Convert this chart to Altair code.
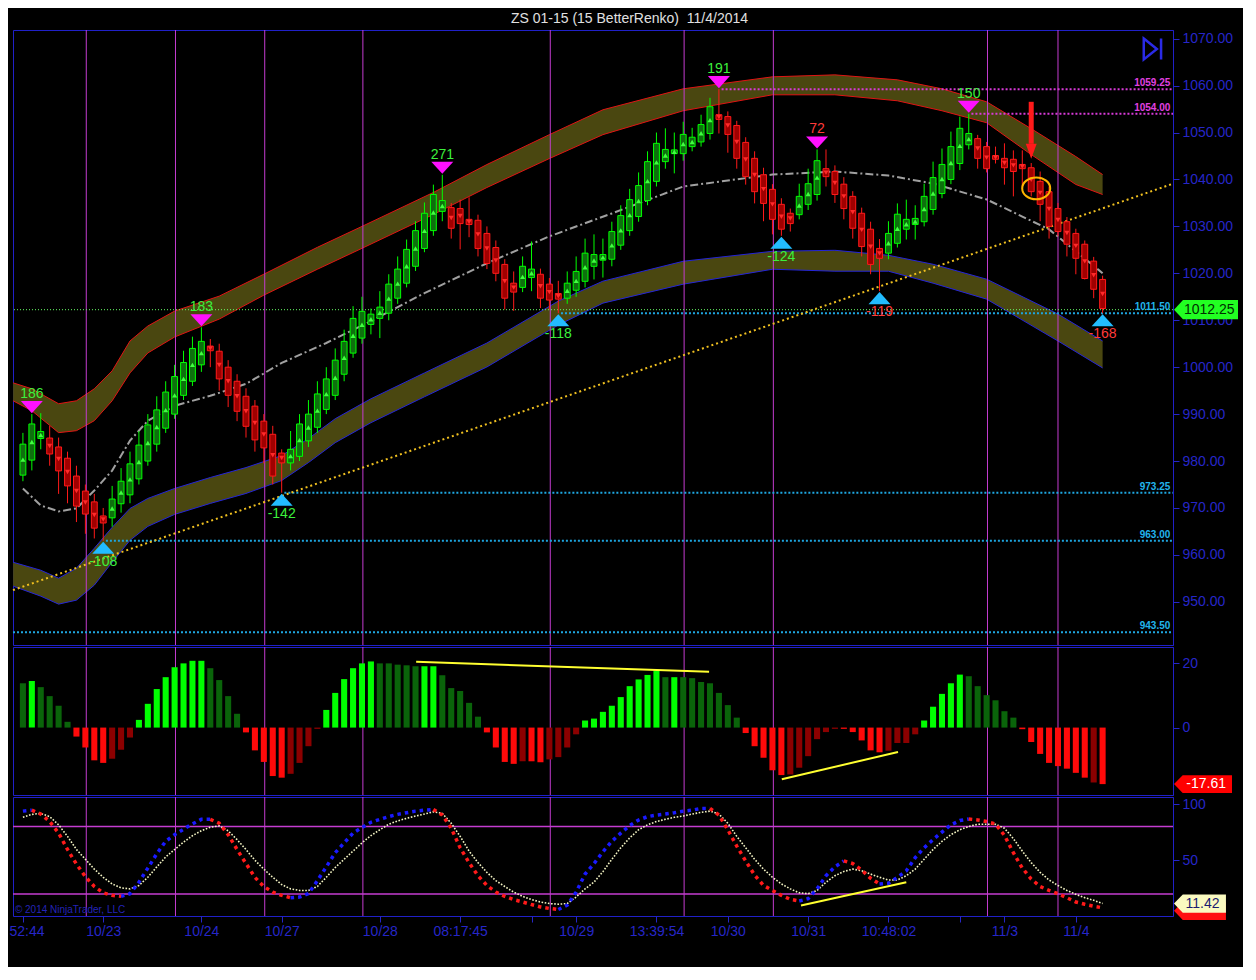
import altair as alt
import pandas as pd

FONT = "Liberation Sans"
AXC = "#2626c8"
MAG = "#c43cd0"
BORDER = "#2020c8"
W = 1160
X_LO, X_HI = -1.111, 128.889

# ---------------- renko bars ----------------
N = 122
idx = list(range(N))
opens = [977.0, 980.2, 984.8, 984.9, 983.0, 980.6, 976.8, 973.6, 971.3, 968.3,
         967.9, 970.9, 972.8, 976.2, 980.0, 983.6, 987.0, 990.0, 994.0, 997.0,
         1000.5, 1004.5, 1003.4, 1000.0, 997.0, 993.8, 991.7, 988.5, 985.7, 981.7,
         979.6, 981.0, 984.3, 987.2, 991.0, 994.0, 998.5, 1003.0, 1006.2, 1009.1,
         1010.4, 1011.5, 1014.7, 1017.9, 1021.5, 1025.3, 1029.1, 1033.2, 1034.0, 1033.8,
         1031.5, 1031.3, 1028.5, 1025.5, 1021.9, 1017.9, 1017.0, 1019.1, 1019.8, 1017.7,
         1015.7, 1014.7, 1016.4, 1018.3, 1021.5, 1022.8, 1023.0, 1026.0, 1029.1, 1032.1,
         1035.5, 1039.6, 1043.8, 1045.5, 1045.5, 1047.0, 1048.0, 1049.8, 1053.8, 1053.4,
         1051.5, 1047.9, 1044.5, 1041.0, 1037.9, 1034.7, 1032.8, 1032.5, 1034.7, 1036.8,
         1042.3, 1041.7, 1039.0, 1036.4, 1032.8, 1029.4, 1025.3, 1024.3, 1026.4, 1029.4,
         1030.4, 1031.0, 1033.6, 1037.0, 1040.0, 1043.4, 1047.4, 1048.7, 1047.0, 1045.1,
         1044.5, 1044.3, 1043.2, 1042.5, 1039.6, 1037.4, 1033.8, 1031.0, 1028.5, 1026.2,
         1022.6, 1018.7]
closes = [983.6, 987.9, 986.3, 981.5, 977.9, 974.7, 970.4, 968.7, 965.7, 966.8,
          971.9, 975.7, 979.4, 983.4, 987.7, 990.9, 994.7, 998.0, 1001.0, 1004.0,
          1005.5, 1003.5, 997.5, 994.0, 990.6, 987.4, 984.5, 982.8, 976.8, 979.6,
          982.5, 987.9, 990.0, 994.3, 997.5, 1001.5, 1005.5, 1010.4, 1011.9, 1011.3,
          1012.8, 1017.7, 1020.9, 1025.1, 1029.1, 1032.8, 1036.8, 1035.5, 1029.6, 1030.6,
          1030.4, 1025.3, 1022.1, 1020.0, 1014.7, 1016.0, 1021.5, 1020.9, 1014.7, 1014.3,
          1014.5, 1017.9, 1020.4, 1024.3, 1024.0, 1024.0, 1028.9, 1032.3, 1035.7, 1038.7,
          1043.8, 1047.7, 1046.4, 1046.3, 1049.6, 1049.0, 1051.7, 1055.5, 1052.8, 1049.6,
          1044.5, 1040.6, 1037.4, 1034.9, 1031.5, 1029.4, 1030.6, 1036.4, 1039.1, 1044.0,
          1040.6, 1036.8, 1033.8, 1029.6, 1025.7, 1021.9, 1023.2, 1028.5, 1032.6, 1031.5,
          1031.7, 1036.4, 1040.4, 1043.2, 1047.0, 1050.9, 1049.8, 1044.5, 1042.3, 1044.3,
          1042.5, 1041.7, 1042.3, 1037.4, 1034.7, 1030.0, 1028.9, 1026.2, 1023.2, 1018.9,
          1016.6, 1012.5]
highs = [986.0, 990.0, 990.2, 987.5, 985.0, 982.0, 979.0, 975.0, 973.0, 970.0,
         974.7, 978.5, 982.0, 986.4, 990.0, 993.8, 997.0, 1000.5, 1003.5, 1006.5,
         1008.5, 1006.0, 1005.0, 1001.5, 998.5, 995.5, 993.0, 990.0, 987.5, 982.5,
         986.4, 990.0, 993.0, 997.0, 1000.0, 1004.0, 1008.0, 1013.0, 1015.0, 1012.5,
         1016.2, 1019.8, 1023.6, 1027.2, 1031.1, 1035.1, 1038.9, 1041.0, 1035.0, 1035.7,
         1036.2, 1032.5, 1030.0, 1027.0, 1023.0, 1020.4, 1023.6, 1026.8, 1021.0, 1019.0,
         1018.4, 1020.4, 1023.6, 1027.4, 1028.3, 1027.4, 1031.0, 1034.5, 1038.0, 1041.5,
         1046.0, 1050.0, 1050.9, 1050.0, 1052.3, 1051.0, 1053.8, 1057.4, 1059.25, 1054.5,
         1052.5, 1049.0, 1046.0, 1042.5, 1039.0, 1036.0, 1033.8, 1039.1, 1042.3, 1046.4,
         1046.4, 1043.0, 1040.5, 1037.5, 1034.0, 1031.0, 1027.3, 1031.1, 1034.9, 1035.7,
         1034.5, 1039.1, 1043.8, 1046.6, 1050.2, 1053.4, 1054.0, 1049.5, 1048.0, 1047.0,
         1047.7, 1046.2, 1046.2, 1043.5, 1041.7, 1038.5, 1035.0, 1032.0, 1029.5, 1027.0,
         1023.5, 1019.5]
lows = [975.7, 978.0, 982.5, 979.0, 973.0, 971.0, 967.0, 964.5, 963.5, 963.0,
        966.0, 969.0, 971.0, 975.0, 979.0, 982.0, 986.0, 989.0, 993.0, 996.0,
        999.0, 1000.0, 995.0, 991.5, 988.5, 985.0, 982.0, 979.5, 975.0, 973.25,
        978.0, 980.0, 983.0, 986.0, 990.0, 993.0, 997.0, 1002.0, 1005.0, 1007.0,
        1006.2, 1010.0, 1013.5, 1017.0, 1020.5, 1024.5, 1028.0, 1031.1, 1027.4, 1025.1,
        1027.7, 1023.6, 1020.9, 1018.3, 1012.3, 1012.0, 1016.0, 1016.2, 1012.6, 1012.3,
        1011.5, 1013.5, 1015.0, 1017.0, 1018.7, 1019.1, 1021.5, 1025.0, 1028.0, 1031.0,
        1034.5, 1038.5, 1042.3, 1041.3, 1044.0, 1046.0, 1047.0, 1048.5, 1049.8, 1045.7,
        1042.3, 1038.9, 1034.9, 1031.1, 1028.3, 1028.0, 1028.9, 1031.5, 1033.5, 1035.5,
        1038.5, 1035.0, 1031.5, 1027.4, 1023.6, 1019.8, 1016.2, 1023.0, 1025.5, 1027.2,
        1027.2, 1030.0, 1032.5, 1036.0, 1039.0, 1042.0, 1046.4, 1042.3, 1041.5, 1043.4,
        1038.9, 1036.4, 1037.9, 1036.4, 1031.1, 1027.4, 1027.9, 1023.6, 1019.8, 1018.7,
        1014.7, 1011.5]

# ---------------- bands / averages ----------------
ub_i = [-1.1, 1, 4, 6, 8, 10, 12, 14, 17, 22, 27, 33, 38, 46, 52, 59, 65, 74,
        84, 91, 98, 103, 108, 113, 118, 121]
ub_top = [996.66, 995.39, 992.21, 992.84, 995.39, 999.21, 1005.58, 1008.77, 1011.95,
          1015.14, 1019.81, 1025.54, 1030.00, 1037.23, 1043.18, 1049.55, 1054.85, 1059.32,
          1061.87, 1062.29, 1061.23, 1059.32, 1056.55, 1050.82, 1044.88, 1041.05]
ub_bot = [992.84, 990.72, 986.05, 986.47, 988.60, 992.84, 998.78, 1003.03, 1006.43,
          1010.25, 1015.35, 1020.87, 1025.33, 1032.55, 1038.29, 1044.46, 1049.55, 1054.64,
          1058.04, 1058.04, 1056.77, 1054.64, 1052.09, 1045.30, 1038.93, 1036.80]
lb_i = [-1.1, 2, 4, 6, 8, 10, 12, 14, 17, 21, 25, 29, 32, 35, 39, 45, 52, 60,
        65, 74, 84, 91, 97, 102, 108, 116, 121]
lb_top = [958.43, 956.73, 955.04, 957.16, 961.41, 965.87, 969.90, 972.03, 974.15,
          976.49, 978.61, 981.16, 984.77, 989.02, 993.27, 998.78, 1005.15, 1014.08,
          1018.33, 1022.57, 1024.69, 1024.91, 1023.84, 1021.93, 1018.75, 1011.32, 1005.58]
lb_bot = [953.34, 951.21, 949.51, 950.36, 953.55, 958.43, 963.11, 966.08, 968.63,
          970.97, 973.09, 975.85, 979.67, 983.92, 988.17, 993.69, 1000.05, 1008.98,
          1013.65, 1017.69, 1020.87, 1020.45, 1020.45, 1017.90, 1014.50, 1005.58, 999.84]
mid_i = [0, 2, 4, 6, 8, 10, 12, 14, 17, 21, 25, 29, 34, 39, 45, 52, 59, 66,
         74, 84, 91, 97, 102, 108, 115, 121]
mid_v = [974.15, 970.54, 969.27, 969.90, 973.73, 977.97, 984.35, 988.60, 991.78,
         993.90, 996.45, 1000.90, 1005.15, 1009.83, 1015.78, 1022.15, 1027.88, 1032.76,
         1038.50, 1041.05, 1041.69, 1040.84, 1039.14, 1035.74, 1029.37, 1020.02]
trend_x = [X_LO, X_HI]
trend_y = [952.5, 1039.1]

# session separators
vlines = [7.1, 17.1, 27.1, 38.1, 59.1, 74.1, 84.1, 108.1, 116.0]

# horizontal levels
lvl_vals = [1059.25, 1054.00, 1011.50, 973.25, 963.00, 943.50]
lvl_start = [78.3, 106.3, 60.3, 29.3, 9.3, X_LO]
lvl_kind = ["m", "m", "c", "c", "c", "c"]
last_price = 1012.25

# swing labels
hi_i = [1, 20, 47, 78, 89, 106]
hi_txt = ["186", "183", "271", "191", "72", "150"]
hi_red = [0, 0, 0, 0, 1, 0]
lo_i = [9, 29, 60, 85, 96, 121]
lo_txt = ["-108", "-142", "-118", "-124", "-119", "-168"]
lo_red = [0, 0, 0, 0, 1, 1]

# ---------------- histogram ----------------
hist_vals = [13.8, 14.5, 12.6, 9.8, 6.8, 1.8, -2.8, -6.2, -10.2, -11.0,
             -9.7, -6.9, -3.1, 2.4, 7.4, 12.0, 15.7, 18.8, 20.0, 20.8,
             20.8, 18.5, 14.8, 9.8, 4.3, -1.5, -7.1, -10.7, -15.1, -15.6,
             -14.4, -11.0, -5.8, -0.4, 5.5, 10.8, 15.1, 18.5, 20.0, 20.6,
             20.0, 20.0, 19.6, 19.4, 19.1, 19.1, 19.1, 16.3, 12.3, 11.4,
             7.7, 3.4, -1.5, -6.2, -10.7, -11.3, -10.5, -10.5, -10.8, -9.9,
             -9.2, -6.2, -2.1, 2.2, 2.8, 4.9, 6.8, 9.5, 12.9, 15.0,
             16.4, 17.7, 15.7, 15.7, 15.7, 15.4, 14.2, 13.8, 10.8, 7.0,
             3.1, -1.7, -5.8, -9.4, -13.3, -14.8, -14.6, -12.5, -8.9, -3.6,
             -1.4, -0.4, -0.4, -1.4, -4.0, -7.1, -7.7, -7.2, -4.8, -4.8,
             -2.1, 2.2, 6.5, 10.5, 13.8, 16.5, 16.0, 12.9, 10.1, 8.5,
             5.1, 3.1, -0.5, -4.5, -8.2, -11.0, -12.0, -12.8, -14.1, -15.6,
             -17.1, -17.61]
hist_kind = list("gGggggRRRR" "rrrGGGGGGG" "GggggRRRRR" "rrrrGGGGGG" "gggggGGggg"
                 "ggRRRRrRRr" "rrrGGGGGGG" "GGgGgggggg" "gRRRRRrrrr" "rrRRRRRrrr"
                 "rGGGGGgggg" "ggRRRRRRRR" "rR")
hline_x = [44.07, 76.9, 85.05, 98.07]
hline_v = [20.5, 17.4, -16.1, -7.6]
hline_g = [1, 1, 2, 2]

# ---------------- oscillator ----------------
k_vals = [93.8, 94.7, 91.2, 84.5, 74.2, 59.6, 46.5, 35.4, 26.6, 21.0,
          18.7, 17.8, 20.2, 30.4, 43.0, 55.8, 66.9, 72.8, 77.7, 82.4,
          86.5, 86.5, 83.0, 72.8, 59.6, 47.1, 34.8, 26.6, 21.6, 18.7,
          16.6, 17.2, 20.2, 31.8, 44.1, 56.7, 65.5, 74.2, 79.2, 83.9,
          86.5, 88.9, 90.9, 92.4, 93.8, 94.7, 95.3, 90.3, 78.6, 61.1,
          47.9, 36.2, 27.5, 21.6, 17.8, 14.9, 12.8, 10.5, 8.4, 7.0,
          6.1, 9.9, 21.6, 37.7, 47.0, 57.5, 66.9, 74.2, 81.0, 85.9,
          88.9, 90.3, 91.2, 92.4, 93.8, 94.7, 96.2, 96.2, 90.3, 77.2,
          62.6, 49.4, 36.8, 27.5, 23.1, 18.7, 15.2, 13.7, 15.8, 24.5,
          36.2, 44.1, 49.4, 47.1, 41.2, 33.9, 28.9, 29.5, 34.8, 40.6,
          52.3, 61.1, 68.4, 75.1, 81.6, 85.4, 86.8, 85.9, 84.5, 82.4,
          72.2, 56.7, 43.0, 33.3, 26.6, 23.1, 20.2, 16.6, 12.8, 10.8,
          9.0, 7.6]
d_vals = [88.3, 90.9, 91.8, 88.9, 81.6, 71.3, 59.6, 50.9, 42.1, 34.8,
          28.9, 25.4, 24.5, 27.5, 34.8, 44.1, 52.9, 59.6, 66.1, 71.9,
          76.3, 79.5, 80.7, 76.3, 68.4, 59.6, 50.0, 42.1, 34.8, 28.3,
          24.5, 23.1, 23.1, 26.6, 34.8, 43.5, 50.9, 58.2, 65.5, 71.9,
          77.2, 82.1, 85.1, 87.4, 89.4, 91.2, 93.2, 91.8, 83.0, 71.3,
          58.2, 47.9, 39.2, 31.8, 26.6, 21.6, 17.8, 14.9, 12.8, 11.4,
          10.8, 11.4, 17.2, 24.5, 30.5, 39.8, 50.9, 61.1, 69.9, 77.2,
          81.6, 84.5, 86.5, 88.3, 89.4, 91.2, 92.7, 93.8, 91.2, 83.0,
          71.3, 61.1, 50.9, 42.1, 34.8, 28.9, 24.5, 21.0, 20.2, 23.1,
          30.4, 36.2, 40.0, 42.1, 40.6, 37.7, 34.8, 32.4, 32.4, 36.2,
          42.1, 50.9, 59.6, 66.9, 72.8, 77.2, 80.1, 82.1, 82.1, 82.1,
          78.6, 69.3, 58.2, 47.9, 39.2, 32.4, 27.5, 23.1, 19.6, 16.6,
          14.3, 11.42]
oline_x = [87.2, 99.0]
oline_v = [9.6, 30.4]

# x axis ticks
tick_pos = [0, 9, 20, 29, 40, 49, 57, 62, 71, 79, 88, 97, 105, 110, 118]
tick_txt = ["52:44", "10/23", "10/24", "10/27", "10/28", "08:17:45", "", "10/29",
            "13:39:54", "10/30", "10/31", "10:48:02", "", "11/3", "11/4"]

# ======================================================================
xs = alt.Scale(domain=[X_LO, X_HI], nice=False, zero=False)


def xq(f="i"):
    return alt.X(f"{f}:Q", scale=xs, axis=None)


ys = alt.Scale(domain=[940.8, 1071.85], nice=False, zero=False)
pax = alt.Axis(orient="right", values=[950 + 10 * k for k in range(13)], format=".2f",
               title=None, labelColor=AXC, tickColor=AXC, domainColor=BORDER,
               labelFontSize=14, labelFont=FONT, tickSize=6, labelPadding=3,
               grid=False, labelOverlap=False, labelFlush=False)


def yp(f):
    return alt.Y(f"{f}:Q", scale=ys, axis=pax)


bars = pd.DataFrame(dict(i=idx, o=opens, c=closes, h=highs, l=lows))
bars["mid"] = (bars["o"] + bars["c"]) / 2
bars["x0"] = bars["i"] - 0.33
bars["x1"] = bars["i"] + 0.33
up = bars[bars["c"] >= bars["o"]]
dn = bars[bars["c"] < bars["o"]]

ub = pd.DataFrame(dict(i=ub_i, t=ub_top, b=ub_bot))
lb = pd.DataFrame(dict(i=lb_i, t=lb_top, b=lb_bot))
mid = pd.DataFrame(dict(i=mid_i, v=mid_v))
trend = pd.DataFrame(dict(i=trend_x, v=trend_y))
vl = pd.DataFrame(dict(v=vlines))
lv = pd.DataFrame(dict(v=lvl_vals, s=lvl_start, k=lvl_kind))
lv["e"] = X_HI
lv["txt"] = [f"{v:.2f}" for v in lvl_vals]
lv["lx"] = X_HI - 0.3

OLIVE = "#4a4710"

band_layers = []
for df, edge in ((ub, "#e01414"), (lb, "#2424d8")):
    band_layers.append(alt.Chart(df).mark_area(color=OLIVE, opacity=1).encode(
        x=xq(), y=yp("t"), y2="b"))
    band_layers.append(alt.Chart(df).mark_line(color=edge, strokeWidth=1).encode(
        x=xq(), y=yp("t")))
    band_layers.append(alt.Chart(df).mark_line(color=edge, strokeWidth=1).encode(
        x=xq(), y=yp("b")))

vrule_p = alt.Chart(vl).mark_rule(color=MAG, strokeWidth=1).encode(x=xq("v"))

lv_m = lv[lv["k"] == "m"]
lv_c = lv[lv["k"] == "c"]
lvl_layers = [
    alt.Chart(lv_m).mark_rule(color="#d83ad8", strokeWidth=2, strokeDash=[2, 2]).encode(
        x=xq("s"), x2="e", y=yp("v")),
    alt.Chart(lv_c).mark_rule(color="#1ea6e0", strokeWidth=2, strokeDash=[2, 2]).encode(
        x=xq("s"), x2="e", y=yp("v")),
    alt.Chart(pd.DataFrame(dict(v=[last_price]))).mark_rule(
        color="#66ff66", strokeWidth=1, strokeDash=[1, 2]).encode(y=yp("v")),
    alt.Chart(lv_m).mark_text(color="#e040e0", fontSize=10, fontWeight="bold", font=FONT,
                              align="right", baseline="bottom", dy=-1).encode(
        x=xq("lx"), y=yp("v"), text="txt:N"),
    alt.Chart(lv_c).mark_text(color="#22b4ec", fontSize=10, fontWeight="bold", font=FONT,
                              align="right", baseline="bottom", dy=-1).encode(
        x=xq("lx"), y=yp("v"), text="txt:N"),
]

trend_l = alt.Chart(trend).mark_line(color="#f0c020", strokeWidth=2, strokeDash=[2, 3]).encode(
    x=xq(), y=yp("v"))
mid_l = alt.Chart(mid).mark_line(color="#a0a0a0", strokeWidth=2,
                                 strokeDash=[8, 3, 2, 3]).encode(x=xq(), y=yp("v"))

candle_layers = [
    alt.Chart(up).mark_rule(color="#00ff00", strokeWidth=1).encode(x=xq(), y=yp("l"), y2="h"),
    alt.Chart(dn).mark_rule(color="#ff1a1a", strokeWidth=1).encode(x=xq(), y=yp("l"), y2="h"),
    alt.Chart(up).mark_rect(fill="#0e700e", stroke="#00ff00", strokeWidth=1).encode(
        x=xq("x0"), x2="x1", y=yp("o"), y2="c"),
    alt.Chart(dn).mark_rect(fill="#a00000", stroke="#ff1a1a", strokeWidth=1).encode(
        x=xq("x0"), x2="x1", y=yp("o"), y2="c"),
    alt.Chart(up).mark_point(shape="triangle-up", filled=True, size=26, color="#40ff40",
                             opacity=1).encode(x=xq(), y=yp("mid")),
    alt.Chart(dn).mark_point(shape="triangle-down", filled=True, size=26, color="#ff2a2a",
                             opacity=1).encode(x=xq(), y=yp("mid")),
]

his = pd.DataFrame(dict(i=hi_i, v=[highs[k] for k in hi_i], t=hi_txt, r=hi_red))
los = pd.DataFrame(dict(i=lo_i, v=[lows[k] for k in lo_i], t=lo_txt, r=lo_red))
TRI_DN = "M -1 -0.55 L 1 -0.55 L 0 0.55 Z"
TRI_UP = "M -1 0.55 L 1 0.55 L 0 -0.55 Z"
swing_layers = [
    alt.Chart(his).mark_point(shape=TRI_DN, filled=True, size=484, color="#ff10ff",
                              opacity=1, yOffset=-7).encode(x=xq(), y=yp("v")),
    alt.Chart(los).mark_point(shape=TRI_UP, filled=True, size=484, color="#22bcff",
                              opacity=1, yOffset=7).encode(x=xq(), y=yp("v")),
]
for df, dy in ((his, -20), (los, 21)):
    for red, col in ((0, "#3cf03c"), (1, "#ff3a3a")):
        sub = df[df["r"] == red]
        if len(sub):
            swing_layers.append(alt.Chart(sub).mark_text(
                color=col, fontSize=14, font=FONT, dy=dy).encode(
                x=xq(), y=yp("v"), text="t:N"))

# annotations: arrow, ellipse, icon, price tag
arrow = pd.DataFrame(dict(i=[113.0], a=[1056.55], b=[1047.6], h=[1046.0]))
ell = pd.DataFrame(dict(i=[113.56], v=[1038.1]))
icon = pd.DataFrame(dict(i=[126.67], v=[1067.8]))
ptag = pd.DataFrame(dict(i=[132.59], ti=[132.95], v=[last_price], t=["1012.25"]))
TAG = "M -1 0 L -0.72 -0.3 L 1 -0.3 L 1 0.3 L -0.72 0.3 Z"
anno_layers = [
    alt.Chart(arrow).mark_rule(color="#ff1a1a", strokeWidth=5).encode(
        x=xq(), y=yp("a"), y2="b"),
    alt.Chart(arrow).mark_point(shape="M -0.73 -1 L 0.73 -1 L 0 1 Z", filled=True, size=225,
                                color="#ff1a1a", opacity=1).encode(x=xq(), y=yp("h")),
    alt.Chart(ell).mark_point(shape="M -1 0 A 1 0.78 0 1 1 1 0 A 1 0.78 0 1 1 -1 0 Z",
                              filled=False, size=784, color="#ffb400", strokeWidth=2,
                              opacity=1).encode(x=xq(), y=yp("v")),
    alt.Chart(icon).mark_point(shape="M -0.9 -1 L 0.35 0 L -0.9 1 Z M 0.75 -1 L 0.75 1",
                               filled=False, size=440, color="#2a2ae6", strokeWidth=2.5,
                               opacity=1).encode(x=xq(), y=yp("v")),
    alt.Chart(ptag).mark_point(shape=TAG, filled=True, size=4096, color="#22ff22",
                               opacity=1).encode(x=xq(), y=yp("v")),
    alt.Chart(ptag).mark_text(color="#003000", fontSize=14, font=FONT).encode(
        x=xq("ti"), y=yp("v"), text="t:N"),
]

price = alt.layer(*band_layers, vrule_p, *lvl_layers, trend_l, mid_l, *candle_layers,
                  *swing_layers, *anno_layers).properties(width=W, height=615)

# ---------------- histogram panel ----------------
hs = alt.Scale(domain=[-21.0, 25.1], nice=False, zero=False)
hax = alt.Axis(orient="right", values=[0, 20], title=None, labelColor=AXC, tickColor=AXC,
               domainColor=BORDER, labelFontSize=14, labelFont=FONT, tickSize=6,
               labelPadding=3, grid=False, labelFlush=False)


def yh(f):
    return alt.Y(f"{f}:Q", scale=hs, axis=hax)


hdf = pd.DataFrame(dict(i=idx, v=hist_vals, k=hist_kind))
hdf["x0"] = hdf["i"] - 0.34
hdf["x1"] = hdf["i"] + 0.34
hdf["z"] = 0.0
hcols = {"G": "#00ff00", "g": "#0a640a", "R": "#ff0a0a", "r": "#8c0000"}
hist_layers = [alt.Chart(vl).mark_rule(color=MAG, strokeWidth=1).encode(x=xq("v"))]
for k, col in hcols.items():
    hist_layers.append(alt.Chart(hdf[hdf["k"] == k]).mark_rect(color=col).encode(
        x=xq("x0"), x2="x1", y=yh("v"), y2="z"))
hl = pd.DataFrame(dict(i=hline_x, v=hline_v, g=hline_g))
hist_layers.append(alt.Chart(hl).mark_line(color="#ffff30", strokeWidth=2).encode(
    x=xq(), y=yh("v"), detail="g:N"))
htag = pd.DataFrame(dict(i=[132.25], ti=[132.6], v=[hist_vals[-1]], t=["-17.61"]))
hist_layers.append(alt.Chart(htag).mark_point(
    shape="M -1 0 L -0.7 -0.31 L 1 -0.31 L 1 0.31 L -0.7 0.31 Z", filled=True, size=3364,
    color="#ff0000", opacity=1).encode(x=xq(), y=yh("v")))
hist_layers.append(alt.Chart(htag).mark_text(color="#ffffff", fontSize=14, font=FONT).encode(
    x=xq("ti"), y=yh("v"), text="t:N"))
hist = alt.layer(*hist_layers).properties(width=W, height=148)

# ---------------- oscillator panel ----------------
os_ = alt.Scale(domain=[0.3, 106.4], nice=False, zero=False)
oax = alt.Axis(orient="right", values=[50, 100], title=None, labelColor=AXC, tickColor=AXC,
               domainColor=BORDER, labelFontSize=14, labelFont=FONT, tickSize=6,
               labelPadding=3, grid=False, labelFlush=False)
lab_expr = " : ".join(f"datum.value == {p} ? '{t}'" for p, t in zip(tick_pos, tick_txt)) + " : ''"
xax = alt.Axis(values=tick_pos, labelExpr=lab_expr, title=None, labelColor=AXC,
               tickColor=AXC, domain=False, grid=False, labelFontSize=14, labelFont=FONT,
               tickSize=6, labelPadding=2, labelFlush=12, labelFlushOffset=14,
               labelOverlap=False)


def xo(f="i"):
    return alt.X(f"{f}:Q", scale=xs, axis=xax)


def yo(f):
    return alt.Y(f"{f}:Q", scale=os_, axis=oax)


# split the fast line into rising / falling runs
krows = []
seg = 0
prev = None
for j in range(1, N):
    d = "up" if k_vals[j] >= k_vals[j - 1] else "dn"
    if d != prev:
        seg += 1
        krows.append(dict(i=j - 1, v=k_vals[j - 1], s=seg, d=d))
        prev = d
    krows.append(dict(i=j, v=k_vals[j], s=seg, d=d))
kdf = pd.DataFrame(krows)
ddf = pd.DataFrame(dict(i=idx, v=d_vals))
olv = pd.DataFrame(dict(v=[80, 20]))
ol = pd.DataFrame(dict(i=oline_x, v=oline_v))

osc_layers = [
    alt.Chart(olv).mark_rule(color=MAG, strokeWidth=1.5).encode(y=yo("v")),
    alt.Chart(vl).mark_rule(color=MAG, strokeWidth=1).encode(x=xo("v")),
    alt.Chart(ddf).mark_line(color="#f4f4c4", strokeWidth=1.6, strokeDash=[1.6, 1.6]).encode(
        x=xo(), y=yo("v")),
    alt.Chart(kdf[kdf["d"] == "up"]).mark_line(color="#1a1aff", strokeWidth=3.5,
                                               strokeDash=[3.5, 4], strokeCap="butt").encode(
        x=xo(), y=yo("v"), detail="s:N"),
    alt.Chart(kdf[kdf["d"] == "dn"]).mark_line(color="#ff1a1a", strokeWidth=3.5,
                                               strokeDash=[3.5, 4], strokeCap="butt").encode(
        x=xo(), y=yo("v"), detail="s:N"),
    alt.Chart(ol).mark_line(color="#ffff30", strokeWidth=2).encode(x=xo(), y=yo("v")),
    alt.Chart(pd.DataFrame(dict(i=[-0.9], v=[5.5], t=["© 2014 NinjaTrader, LLC"]))).mark_text(
        color="#2424b8", fontSize=10, font=FONT, align="left").encode(
        x=xo(), y=yo("v"), text="t:N"),
]
otag_r = pd.DataFrame(dict(i=[131.91], v=[k_vals[-1]]))
otag_d = pd.DataFrame(dict(i=[131.91], ti=[132.2], v=[d_vals[-1]], t=["11.42"]))
OTAG = "M -1 0 L -0.66 -0.35 L 1 -0.35 L 1 0.35 L -0.66 0.35 Z"
osc_layers += [
    alt.Chart(otag_r).mark_point(shape=OTAG, filled=True, size=2704, color="#ff1010",
                                 opacity=1, yOffset=3).encode(x=xo(), y=yo("v")),
    alt.Chart(otag_d).mark_point(shape=OTAG, filled=True, size=2704, color="#fafac0",
                                 opacity=1).encode(x=xo(), y=yo("v")),
    alt.Chart(otag_d).mark_text(color="#1a1a70", fontSize=14, font=FONT).encode(
        x=xo("ti"), y=yo("v"), text="t:N"),
]
osc = alt.layer(*osc_layers).properties(width=W, height=119)

chart = alt.vconcat(price, hist, osc, spacing=0).properties(
    background="#000000",
    padding={"left": 0, "top": 4, "right": 4, "bottom": 28},
    title=alt.TitleParams("ZS 01-15 (15 BetterRenko) \u00a011/4/2014", color="#e0e0e0",
                          fontSize=14, font=FONT, fontWeight="normal", anchor="middle",
                          offset=3, dx=6),
).configure_view(stroke=BORDER, strokeWidth=1).configure_axis(grid=False)

chart.save("out.html", embed_options={"renderer": "svg", "actions": False})
